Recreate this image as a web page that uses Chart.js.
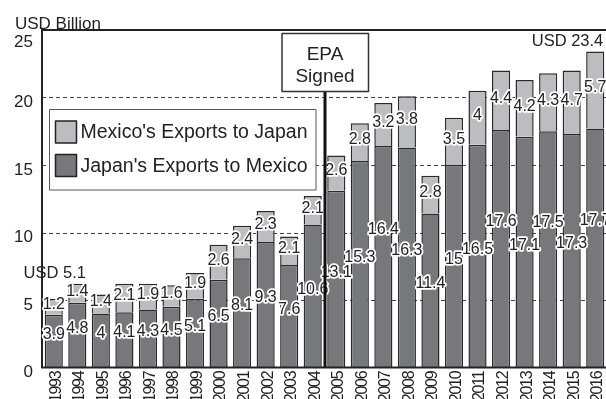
<!DOCTYPE html>
<html>
<head>
<meta charset="utf-8">
<script src="https://cdn.jsdelivr.net/npm/chart.js@4/dist/chart.umd.min.js"></script>
<style>
  html, body { margin: 0; padding: 0; background: #fff; overflow: hidden; }
  canvas { display: block; }
</style>
</head>
<body>
<canvas id="trade-chart" width="607" height="399"></canvas>
<script>
const years = ['1993', '1994', '1995', '1996', '1997', '1998', '1999', '2000', '2001', '2002', '2003', '2004',
  '2005', '2006', '2007', '2008', '2009', '2010', '2011', '2012', '2013', '2014', '2015', '2016'];
const japanExports = [3.9, 4.8, 4, 4.1, 4.3, 4.5, 5.1, 6.5, 8.1, 9.3, 7.6, 10.6,
  13.1, 15.3, 16.4, 16.3, 11.4, 15, 16.5, 17.6, 17.1, 17.5, 17.3, 17.7];
const mexicoExports = [1.2, 1.4, 1.4, 2.1, 1.9, 1.6, 1.9, 2.6, 2.4, 2.3, 2.1, 2.1,
  2.6, 2.8, 3.2, 3.8, 2.8, 3.5, 4, 4.4, 4.2, 4.3, 4.7, 5.7];
const yTicks = [0, 5, 10, 15, 20, 25];
const epaYear = '2005';
// labels pushed up so they don't collide with the neighbour's
const raisedYears = ['2007', '2012', '2014', '2016'];

const FONT = '"Liberation Sans", Arial, sans-serif';
const DARK = '#77787b';
const LIGHT = '#bcbdc1';
const INK = '#222';

function halo(ctx, text, x, y) {
  ctx.strokeText(text, x, y);
  ctx.fillText(text, x, y);
}

const overlay = {
  id: 'overlay',
  beforeDatasetsDraw(chart) {
    const { ctx, chartArea: a, scales: { y } } = chart;
    ctx.save();
    ctx.strokeStyle = '#444';
    ctx.lineWidth = 1;
    ctx.setLineDash([4, 3]);
    yTicks.forEach((v) => {
      if (v === 0 || v === yTicks[yTicks.length - 1]) return;
      const py = Math.round(y.getPixelForValue(v)) + 0.5;
      ctx.beginPath();
      ctx.moveTo(a.left, py);
      ctx.lineTo(a.right, py);
      ctx.stroke();
    });
    ctx.restore();
  },
  afterDatasetsDraw(chart) {
    const { ctx, chartArea: a, scales: { y } } = chart;
    const jp = chart.getDatasetMeta(0).data;
    const mx = chart.getDatasetMeta(1).data;
    ctx.save();

    // frame: left axis, bottom axis, top line
    ctx.strokeStyle = INK;
    ctx.lineWidth = 2;
    ctx.beginPath();
    ctx.moveTo(a.left, a.top - 1);
    ctx.lineTo(a.left, a.bottom);
    ctx.lineTo(a.right, a.bottom);
    ctx.moveTo(a.left, a.top);
    ctx.lineTo(a.right, a.top);
    ctx.stroke();

    // y tick labels
    ctx.font = '17px ' + FONT;
    ctx.fillStyle = INK;
    ctx.textAlign = 'right';
    ctx.textBaseline = 'middle';
    yTicks.forEach((v) => {
      const py = Math.max(y.getPixelForValue(v) + 5, a.top + 12);
      ctx.fillText(String(v), a.left - 9, py);
    });

    // x tick labels, rotated and a bit condensed
    ctx.font = '16px ' + FONT;
    ctx.letterSpacing = '-1.2px';
    years.forEach((yr, i) => {
      ctx.save();
      ctx.translate(jp[i].x + 2.5, a.bottom + 4);
      ctx.rotate(-Math.PI / 2);
      ctx.fillText(yr, 0, 0);
      ctx.restore();
    });
    ctx.letterSpacing = '0px';

    // value labels
    ctx.font = '16px ' + FONT;
    ctx.textAlign = 'center';
    ctx.textBaseline = 'middle';
    ctx.lineJoin = 'round';
    ctx.lineWidth = 3.5;
    ctx.strokeStyle = '#fff';
    ctx.fillStyle = INK;
    years.forEach((yr, i) => {
      const shift = raisedYears.includes(yr) ? 2 : 0.5;
      halo(ctx, String(japanExports[i]), jp[i].x, y.getPixelForValue(japanExports[i] / 2 + shift));
      halo(ctx, String(mexicoExports[i]), mx[i].x,
        y.getPixelForValue(japanExports[i] + mexicoExports[i] / 2 + 0.15));
    });

    // first / last totals
    const last = years.length - 1;
    const firstTotal = +(japanExports[0] + mexicoExports[0]).toFixed(1);
    const lastTotal = +(japanExports[last] + mexicoExports[last]).toFixed(1);
    ctx.font = '16.5px ' + FONT;
    ctx.fillStyle = INK;
    ctx.textAlign = 'center';
    ctx.fillText('USD ' + firstTotal, mx[0].x + 1, mx[0].y - 25);
    ctx.textAlign = 'right';
    ctx.fillText('USD ' + lastTotal, mx[last].x + mx[last].width / 2 - 1, mx[last].y - 10);

    // EPA marker
    const k = years.indexOf(epaYear);
    const lx = Math.round((jp[k - 1].x + jp[k].x) / 2);
    const box = { l: lx - 43, t: 33.5, w: 86.5, h: 58 };
    ctx.fillStyle = '#111';
    ctx.fillRect(lx - 1.5, box.t + box.h, 3, a.bottom - box.t - box.h);
    ctx.fillStyle = '#fff';
    ctx.fillRect(box.l, box.t, box.w, box.h);
    ctx.strokeStyle = '#333';
    ctx.lineWidth = 1.5;
    ctx.strokeRect(box.l, box.t, box.w, box.h);
    ctx.fillStyle = INK;
    ctx.font = '19px ' + FONT;
    ctx.textAlign = 'center';
    ctx.textBaseline = 'alphabetic';
    ctx.fillText('EPA', lx, box.t + 26.5);
    ctx.fillText('Signed', lx, box.t + 48.5);

    // legend (top series first)
    const lg = { l: 49.5, t: 109.5, w: 266.5, h: 80.5 };
    ctx.fillStyle = '#fff';
    ctx.fillRect(lg.l, lg.t, lg.w, lg.h);
    ctx.strokeStyle = '#555';
    ctx.lineWidth = 1;
    ctx.strokeRect(lg.l, lg.t, lg.w, lg.h);
    const items = chart.data.datasets.slice().reverse();
    ctx.font = '19.5px ' + FONT;
    ctx.textAlign = 'left';
    ctx.textBaseline = 'middle';
    items.forEach((ds, i) => {
      const sy = lg.t + 11.5 + i * 33.5;
      ctx.fillStyle = ds.backgroundColor;
      ctx.fillRect(lg.l + 6, sy, 21, 22);
      ctx.strokeStyle = INK;
      ctx.lineWidth = 1.5;
      ctx.strokeRect(lg.l + 6, sy, 21, 22);
      ctx.fillStyle = INK;
      ctx.fillText(ds.label, lg.l + 31, sy + 12);
    });

    ctx.restore();
  },
  afterDraw(chart) {
    const { ctx } = chart;
    ctx.save();
    ctx.font = '17px ' + FONT;
    ctx.fillStyle = INK;
    ctx.textBaseline = 'alphabetic';
    ctx.fillText('USD Billion', 15, 28.5);
    ctx.restore();
  }
};

const barStyle = {
  borderColor: '#2a2a2a',
  borderWidth: 1.5,
  barPercentage: 0.77,
  categoryPercentage: 1,
};

new Chart(document.getElementById('trade-chart'), {
  type: 'bar',
  data: {
    labels: years,
    datasets: [
      { label: "Japan's Exports to Mexico", data: japanExports, backgroundColor: DARK, ...barStyle },
      { label: "Mexico's Exports to Japan", data: mexicoExports, backgroundColor: LIGHT, ...barStyle },
    ],
  },
  options: {
    responsive: false,
    animation: false,
    devicePixelRatio: 1,
    layout: { padding: { top: 30, right: 0, bottom: 0, left: 0 } },
    plugins: {
      legend: { display: false },
      tooltip: { enabled: false },
    },
    scales: {
      x: {
        stacked: true,
        grid: { display: false },
        border: { display: false },
        ticks: { display: false },
        afterFit: (s) => {
          s.height = 31.5;
          s.paddingLeft = 0;
          s.paddingRight = 0;
        },
      },
      y: {
        stacked: true,
        min: 0,
        max: 25,
        grid: { display: false },
        border: { display: false },
        ticks: { display: false, stepSize: 5 },
        afterFit: (s) => {
          s.width = 42;
          s.paddingTop = 0;
          s.paddingBottom = 0;
        },
      },
    },
  },
  plugins: [overlay],
});
</script>
</body>
</html>
